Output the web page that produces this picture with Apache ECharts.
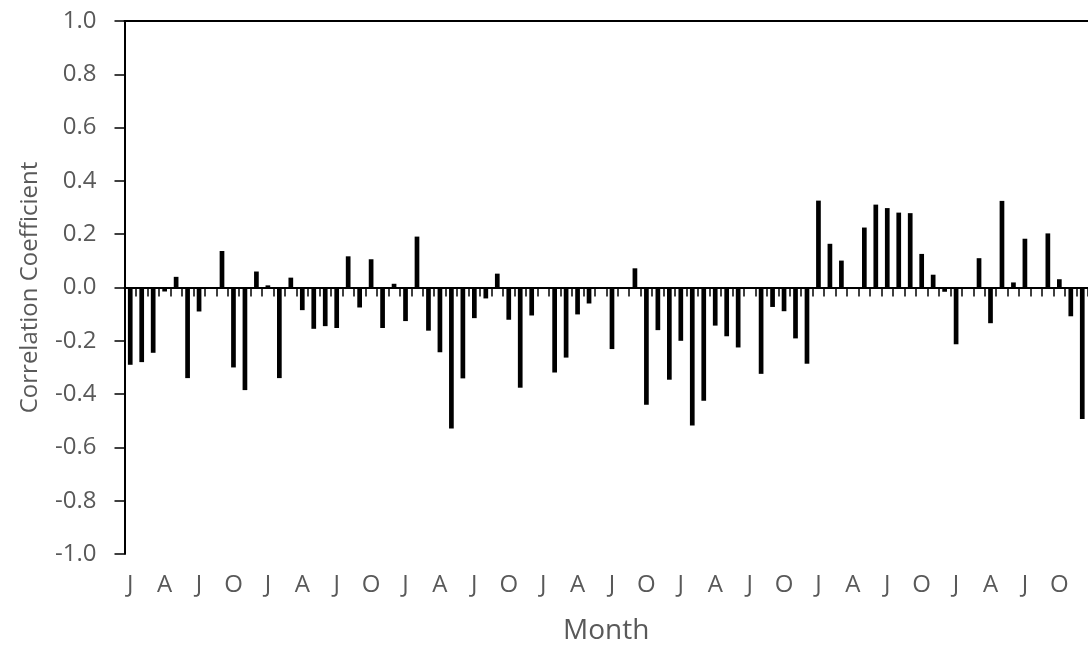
<!DOCTYPE html>
<html>
<head>
<meta charset="utf-8">
<title>Monthly correlation coefficient</title>
<script src="https://cdn.jsdelivr.net/npm/echarts@6/dist/echarts.min.js"></script>
<style>
  html, body { margin: 0; padding: 0; background: #ffffff; }
  #chart { width: 1088px; height: 650px; }
</style>
</head>
<body>
<div id="chart"></div>
<script>
// Month initials, one row per year (7 years, 84 months)
const monthLabels = [
  'J','F','M','A','M','J','J','A','S','O','N','D',
  'J','F','M','A','M','J','J','A','S','O','N','D',
  'J','F','M','A','M','J','J','A','S','O','N','D',
  'J','F','M','A','M','J','J','A','S','O','N','D',
  'J','F','M','A','M','J','J','A','S','O','N','D',
  'J','F','M','A','M','J','J','A','S','O','N','D',
  'J','F','M','A','M','J','J','A','S','O','N','D'
];

// Correlation coefficient for each month, grouped by year
const year1 = [-0.290, -0.280, -0.245, -0.015,  0.040, -0.340, -0.090,  0.000,  0.137, -0.300, -0.385,  0.060];
const year2 = [ 0.008, -0.340,  0.037, -0.085, -0.155, -0.145, -0.152,  0.117, -0.075,  0.106, -0.152,  0.014];
const year3 = [-0.126,  0.191, -0.162, -0.243, -0.529, -0.341, -0.115, -0.041,  0.052, -0.121, -0.376, -0.105];
const year4 = [-0.004, -0.319, -0.263, -0.101, -0.060,  0.000, -0.231,  0.000,  0.072, -0.440, -0.160, -0.346];
const year5 = [-0.200, -0.518, -0.425, -0.143, -0.183, -0.225,  0.000, -0.324, -0.073, -0.089, -0.191, -0.286];
const year6 = [ 0.326,  0.164,  0.101,  0.000,  0.225,  0.311,  0.298,  0.281,  0.279,  0.126,  0.048, -0.016];
const year7 = [-0.213,  0.000,  0.110, -0.134,  0.325,  0.019,  0.183,  0.000,  0.203,  0.031, -0.108, -0.493];

const correlation = [].concat(year1, year2, year3, year4, year5, year6, year7);

const FONT = 'Open Sans';
const TEXT_GREY = '#595959';

const chart = echarts.init(document.getElementById('chart'), null, { renderer: 'canvas' });

chart.setOption({
  animation: false,
  backgroundColor: '#ffffff',
  textStyle: { fontFamily: FONT },
  grid: { left: 124.5, right: -2, top: 21, bottom: 95.5, containLabel: false },
  xAxis: [
    {
      // category axis drawn through zero with a tick between every month
      type: 'category',
      data: monthLabels,
      position: 'bottom',
      axisLine: { show: true, onZero: true, lineStyle: { color: '#000000', width: 2 } },
      axisTick: { show: true, interval: 0, length: 9, lineStyle: { color: '#000000', width: 1.5 } },
      axisLabel: { show: false },
      splitLine: { show: false }
    },
    {
      // month initials along the bottom edge
      type: 'category',
      data: monthLabels,
      position: 'bottom',
      axisLine: { show: false, onZero: false },
      axisTick: { show: false },
      axisLabel: {
        show: true, interval: 2, margin: 19,
        color: TEXT_GREY, fontFamily: FONT, fontSize: 24
      },
      splitLine: { show: false },
      name: 'Month',
      nameLocation: 'middle',
      nameGap: 63,
      nameTextStyle: { color: TEXT_GREY, fontFamily: FONT, fontSize: 28 }
    },
    {
      // top edge of the plot area
      type: 'category',
      data: monthLabels,
      position: 'top',
      axisLine: { show: true, onZero: false, lineStyle: { color: '#000000', width: 2 } },
      axisTick: { show: false },
      axisLabel: { show: false },
      splitLine: { show: false }
    }
  ],
  yAxis: {
    type: 'value',
    min: -1,
    max: 1,
    interval: 0.2,
    axisLine: { show: true, lineStyle: { color: '#000000', width: 2 } },
    axisTick: { show: true, length: 10, lineStyle: { color: '#000000', width: 1.5 } },
    splitLine: { show: false },
    axisLabel: {
      margin: 28,
      color: TEXT_GREY,
      fontFamily: FONT,
      fontSize: 24,
      formatter: function (v) { return (Math.abs(v) < 1e-9 ? 0 : v).toFixed(1); }
    },
    name: 'Correlation Coefficient',
    nameLocation: 'middle',
    nameGap: 82,
    nameTextStyle: { color: TEXT_GREY, fontFamily: FONT, fontSize: 24 }
  },
  series: [
    {
      type: 'bar',
      xAxisIndex: 0,
      yAxisIndex: 0,
      data: correlation,
      barWidth: '41%',
      itemStyle: { color: '#000000' }
    }
  ]
});
</script>
</body>
</html>
